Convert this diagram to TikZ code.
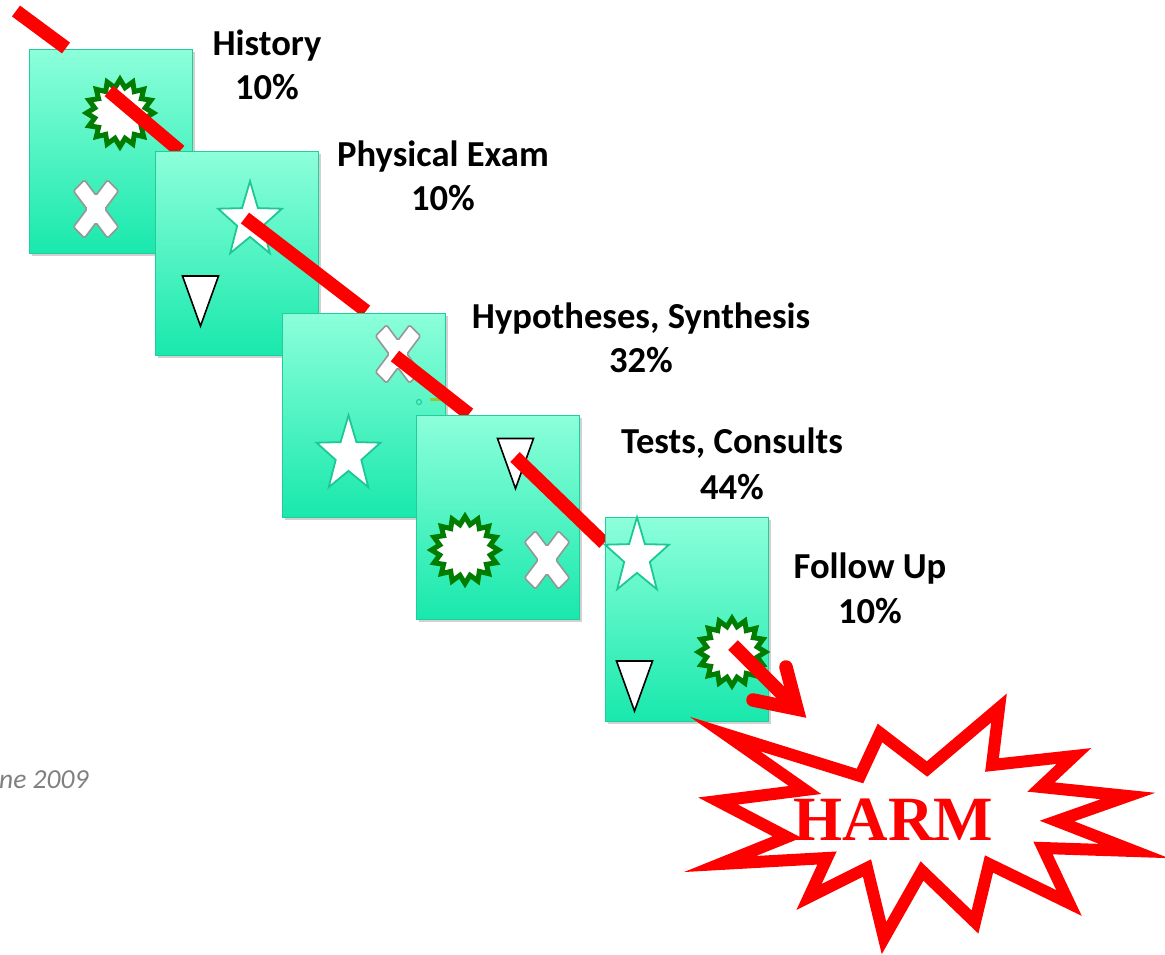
\documentclass[tikz,border=0pt]{standalone}
\usepackage{fontspec}
\setmainfont{Carlito}
\newfontfamily\harmfont{Liberation Serif}
\usetikzlibrary{shapes.geometric,shadows}

\definecolor{cardtop}{RGB}{140,255,218}
\definecolor{cardbot}{RGB}{24,232,172}
\definecolor{cardedge}{RGB}{35,205,155}
\definecolor{staredge}{RGB}{30,200,150}
\definecolor{burstgreen}{RGB}{0,125,0}
\definecolor{xedge}{RGB}{150,150,150}
\definecolor{notegray}{RGB}{128,128,128}
\definecolor{tickgreen}{RGB}{150,200,50}
\definecolor{harmred}{RGB}{255,0,0}

\tikzset{
  cardbox/.style={draw=cardedge, line width=1.4pt, top color=cardtop, bottom color=cardbot,
    minimum width=163pt, minimum height=204pt, inner sep=0pt, anchor=north west,
    drop shadow={shadow xshift=2pt, shadow yshift=-2pt, opacity=.18, fill=black}},
  burstsym/.style={star, star points=16, star point ratio=1.3, minimum size=67pt,
    inner sep=0pt, draw=burstgreen, line width=5pt, fill=white},
  starpath/.style={draw=staredge, line width=1.8pt, fill=white, line join=miter},
  xpath/.style={draw=xedge, line width=1.6pt, fill=white, rounded corners=1.5pt},
  tripath/.style={draw=black, line width=1.6pt, fill=white, line join=miter},
  redline/.style={draw=harmred, line width=13.5pt,
    preaction={draw=black, draw opacity=.15, transform canvas={xshift=2pt,yshift=-2pt}}},
  txtlabel/.style={font=\bfseries\fontsize{36.6}{43}\selectfont, anchor=base, inner sep=0pt},
  notetext/.style={font=\itshape\fontsize{27.5}{30}\selectfont, text=notegray, anchor=base west, inner sep=0pt},
  harmtext/.style={font=\harmfont\bfseries\fontsize{63}{63}\selectfont, text=harmred, anchor=base, inner sep=0pt},
  pics/fivestar/.style={code={
    \draw[starpath] (0,-39.8) -- (7.9,-12.9) -- (31.95,-12.3) -- (12.8,4.9) -- (19.8,32.2)
      -- (0,15.9) -- (-19.8,32.2) -- (-12.8,4.9) -- (-31.95,-12.3) -- (-7.9,-12.9) -- cycle;}},
  pics/xmark/.style={code={
    \draw[xpath] (-22.5,-18) -- (-11.5,-29) -- (0,-13.7) -- (11.5,-29) -- (22.5,-18) -- (9,0)
      -- (22.5,18) -- (11.5,29) -- (0,13.7) -- (-11.5,29) -- (-22.5,18) -- (-9,0) -- cycle;}},
  pics/downtri/.style={code={
    \draw[tripath] (-18,-25) -- (18,-25) -- (0,25) -- cycle;}},
}

\begin{document}
\begin{tikzpicture}[x=1pt, y=-1pt]
\useasboundingbox (0,0) rectangle (1165,954);

% path of the red line
\coordinate (r1a) at (16,11);   \coordinate (r1b) at (66,48);
\coordinate (r2a) at (109,91);  \coordinate (r2b) at (180,151);
\coordinate (r3a) at (245,218); \coordinate (r3b) at (366,311);
\coordinate (r4a) at (395,356); \coordinate (r4b) at (469,414);
\coordinate (r5a) at (515,457); \coordinate (r5b) at (604,543);
\coordinate (ar0) at (733,645); \coordinate (tip) at (797,709);
\coordinate (arm1) at (786,667); \coordinate (arm2) at (753,700);

% slice 1: History
\node[cardbox] (c1) at (29,49) {};
\node[burstsym] (b1) at (120,113) {};
\pic (x1) at (96,209) {xmark};
\draw[redline] (r1a) -- (r1b);
\draw[redline] (r2a) -- (r2b);

% slice 2: Physical Exam
\node[cardbox] (c2) at (155,151) {};
\pic (s2) at (250,221) {fivestar};
\pic (t2) at (200.5,301) {downtri};
\draw[redline] (r3a) -- (r3b);

% slice 3: Hypotheses, Synthesis
\node[cardbox] (c3) at (282,313) {};
\pic (x3) at (398,354) {xmark};
\pic (s3) at (348.5,455) {fivestar};
\draw[staredge, line width=1pt] (419,402) circle[radius=2.5pt];
\draw[tickgreen, line width=3pt] (430,399) -- (442,399);
\draw[redline] (r4a) -- (r4b);

% slice 4: Tests, Consults
\node[cardbox] (c4) at (416,415) {};
\pic (t4) at (515.5,463.5) {downtri};
\node[burstsym] (b4) at (465,550) {};
\pic (x4) at (547,560) {xmark};
\draw[redline] (r5a) -- (r5b);

% slice 5: Follow Up
\node[cardbox] (c5) at (605,517) {};
\pic (s5) at (637,557) {fivestar};
\pic (t5) at (634.5,686) {downtri};
\node[burstsym] (b5) at (732,652) {};
\draw[redline] (ar0) -- (tip);
\draw[redline, line cap=round, line join=miter] (arm1) -- (tip) -- (arm2);

% explosion
\draw[draw=harmred, fill=white, line width=12pt, line join=miter, miter limit=25,
  preaction={draw=black, draw opacity=.12, transform canvas={xshift=2pt,yshift=-2pt}}]
  (725,734) -- (860,776) -- (880,733) -- (927,769) -- (999,708) -- (992,765)
  -- (1074,756) -- (1041,787) -- (1128,796) -- (1057,821) -- (1134,851) -- (1043,848)
  -- (1069,903) -- (989,864) -- (975,922) -- (922,871) -- (884,938) -- (867,868)
  -- (809,897) -- (827,858) -- (720,864) -- (787,837) -- (718,801) -- (805,790) -- cycle;
\node[harmtext] (harm) at (893.5,840) {HARM};

% labels
\node[txtlabel] (l1) at (267,55) {History};
\node[txtlabel] (q1) at (267,99) {10\%};
\node[txtlabel] (l2) at (443,166) {Physical Exam};
\node[txtlabel] (q2) at (443,210) {10\%};
\node[txtlabel] (l3) at (641,328) {Hypotheses, Synthesis};
\node[txtlabel] (q3) at (641,372) {32\%};
\node[txtlabel] (l4) at (732,453) {Tests, Consults};
\node[txtlabel] (q4) at (732,499) {44\%};
\node[txtlabel] (l5) at (870,578) {Follow Up};
\node[txtlabel] (q5) at (870,623) {10\%};

\node[notetext] (note) at (-1,788) {ne 2009};
\end{tikzpicture}
\end{document}
